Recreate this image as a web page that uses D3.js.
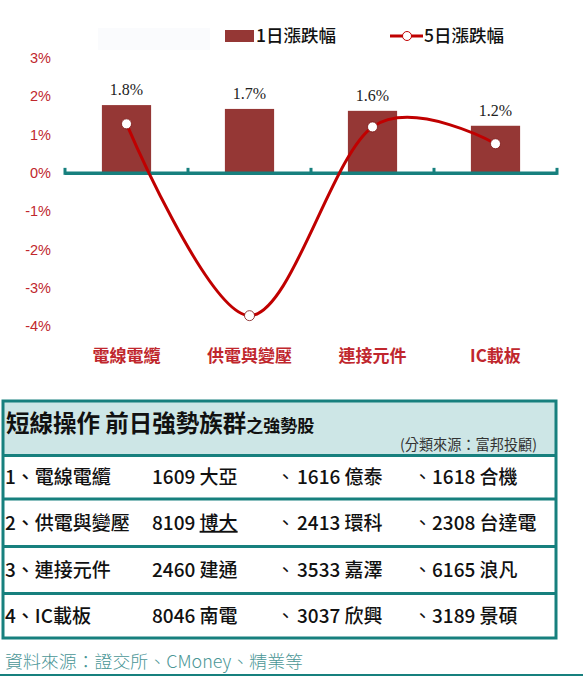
<!DOCTYPE html>
<html>
<head>
<meta charset="utf-8">
<script src="https://cdn.jsdelivr.net/npm/d3@7"></script>
<style>
  html, body { margin: 0; padding: 0; background: #fff; }
  svg { display: block; }
</style>
</head>
<body>
<div id="chart"></div>
<script>
// chart data
var categories = ["電線電纜", "供電與變壓", "連接元件", "IC載板"];
var day1 = [1.77, 1.67, 1.62, 1.23];
var day5 = [1.28, -3.73, 1.2, 0.76];
var yTicks = [3, 2, 1, 0, -1, -2, -3, -4];
var legendNames = ["1日漲跌幅", "5日漲跌幅"];

// table data
var tableTitle = "短線操作 前日強勢族群";
var tableTitleSub = "之強勢股";
var tableNote = "(分類來源：富邦投顧)";
var groupNames = ["1、電線電纜", "2、供電與變壓", "3、連接元件", "4、IC載板"];
var stockCodes = [["1609", "1616", "1618"], ["8109", "2413", "2308"], ["2460", "3533", "6165"], ["8046", "3037", "3189"]];
var stockNames = [["大亞", "億泰", "合機"], ["博大", "環科", "台達電"], ["建通", "嘉澤", "浪凡"], ["南電", "欣興", "景碩"]];
var sourceText = "資料來源：證交所、CMoney、精業等";

function init(){

    var w = 583;
    var h = 676;

    var barColor = "#953735";
    var lineColor = "#c00000";
    var teal = "#17807e";
    var red = "#c0272d";
    var cjk = "'Noto Sans CJK TC', 'Noto Sans', sans-serif";

    var svg = d3.select("#chart")
                .append("svg")
                .attr("width", w)
                .attr("height", h);

    var x = d3.scaleBand()
              .domain(categories)
              .range([65, 557])
              .paddingInner(0)
              .paddingOuter(0);

    var y = d3.scaleLinear()
              .domain([-4, 3])
              .range([326, 58]);

    // faint leftover box behind the legend
    svg.append("rect")
       .attr("x", 98).attr("y", 28)
       .attr("width", 112).attr("height", 22)
       .attr("fill", "#fafbfd");

    // y tick labels
    svg.selectAll("text.ytick")
       .data(yTicks)
       .enter()
       .append("text")
       .attr("class", "ytick")
       .attr("x", 51)
       .attr("y", function(d){ return y(d); })
       .attr("dy", "0.35em")
       .attr("text-anchor", "end")
       .attr("font-family", "'Liberation Sans', Arial, sans-serif")
       .attr("font-size", 14.5)
       .attr("fill", red)
       .text(function(d){ return d + "%"; });

    var bw = x.bandwidth() * 0.4;

    // bars
    svg.selectAll("rect.bar")
       .data(day1)
       .enter()
       .append("rect")
       .attr("class", "bar")
       .attr("x", function(d, i){ return x(categories[i]) + (x.bandwidth() - bw) / 2; })
       .attr("y", function(d){ return y(d); })
       .attr("width", bw)
       .attr("height", function(d){ return y(0) - y(d); })
       .attr("fill", barColor);

    // bar value labels
    svg.selectAll("text.blabel")
       .data(day1)
       .enter()
       .append("text")
       .attr("class", "blabel")
       .attr("x", function(d, i){ return x(categories[i]) + x.bandwidth() / 2; })
       .attr("y", function(d){ return y(d) - 10; })
       .attr("text-anchor", "middle")
       .attr("font-family", "'Liberation Serif', 'Times New Roman', serif")
       .attr("font-size", 16)
       .attr("fill", "#222")
       .text(function(d){ return d.toFixed(1) + "%"; });

    // zero axis with tick marks
    svg.append("line")
       .attr("x1", x.range()[0]).attr("x2", x.range()[1])
       .attr("y1", y(0) + 0.5).attr("y2", y(0) + 0.5)
       .attr("stroke", teal)
       .attr("stroke-width", 3.5);

    var tickX = categories.map(function(c){ return x(c); }).concat([x.range()[1]]);
    svg.selectAll("line.xtick")
       .data(tickX)
       .enter()
       .append("line")
       .attr("class", "xtick")
       .attr("x1", function(d){ return d; })
       .attr("x2", function(d){ return d; })
       .attr("y1", y(0) - 5)
       .attr("y2", y(0) + 2)
       .attr("stroke", teal)
       .attr("stroke-width", 3);

    // 5-day line
    var line = d3.line()
                 .x(function(d, i){ return x(categories[i]) + x.bandwidth() / 2; })
                 .y(function(d){ return y(d); })
                 .curve(d3.curveCardinal.tension(0));

    svg.append("path")
       .datum(day5)
       .attr("d", line)
       .attr("fill", "none")
       .attr("stroke", lineColor)
       .attr("stroke-width", 3);

    svg.selectAll("circle.pt")
       .data(day5)
       .enter()
       .append("circle")
       .attr("class", "pt")
       .attr("cx", function(d, i){ return x(categories[i]) + x.bandwidth() / 2; })
       .attr("cy", function(d){ return y(d); })
       .attr("r", 5)
       .attr("fill", "#fff")
       .attr("stroke", "#7a1010")
       .attr("stroke-width", 0.8);

    // category labels
    svg.selectAll("text.cat")
       .data(categories)
       .enter()
       .append("text")
       .attr("class", "cat")
       .attr("x", function(d){ return x(d) + x.bandwidth() / 2; })
       .attr("y", 356)
       .attr("dy", "0.35em")
       .attr("text-anchor", "middle")
       .attr("font-family", cjk)
       .attr("font-weight", "bold")
       .attr("font-size", 17)
       .attr("fill", red)
       .text(function(d){ return d; });

    // legend
    svg.append("rect")
       .attr("x", 225).attr("y", 30)
       .attr("width", 29).attr("height", 12)
       .attr("fill", barColor);
    svg.append("line")
       .attr("x1", 390).attr("x2", 423)
       .attr("y1", 36).attr("y2", 36)
       .attr("stroke", lineColor)
       .attr("stroke-width", 3);
    svg.append("circle")
       .attr("cx", 407).attr("cy", 36).attr("r", 4.5)
       .attr("fill", "#fff")
       .attr("stroke", lineColor)
       .attr("stroke-width", 1);
    svg.selectAll("text.leg")
       .data(legendNames)
       .enter()
       .append("text")
       .attr("class", "leg")
       .attr("x", function(d, i){ return i == 0 ? 256 : 424; })
       .attr("y", 36)
       .attr("dy", "0.36em")
       .attr("font-family", cjk)
       .attr("font-weight", 500)
       .attr("font-size", 17.5)
       .attr("fill", "#111")
       .text(function(d){ return d; });

    // ---- table ----
    var tLeft = 3, tRight = 556, tTop = 401, tBottom = 638;
    var rowLines = [455.5, 499, 546.5, 593.5];
    var rowMid = [477, 523, 570, 616];

    svg.append("rect")
       .attr("x", tLeft).attr("y", tTop)
       .attr("width", tRight - tLeft).attr("height", rowLines[0] - tTop)
       .attr("fill", "#cde6e6");

    svg.selectAll("line.rowline")
       .data(rowLines)
       .enter()
       .append("line")
       .attr("class", "rowline")
       .attr("x1", tLeft).attr("x2", tRight)
       .attr("y1", function(d){ return d; })
       .attr("y2", function(d){ return d; })
       .attr("stroke", teal)
       .attr("stroke-width", 3);

    svg.append("rect")
       .attr("x", tLeft).attr("y", tTop)
       .attr("width", tRight - tLeft).attr("height", tBottom - tTop)
       .attr("fill", "none")
       .attr("stroke", teal)
       .attr("stroke-width", 3);

    var title = svg.append("text")
       .attr("x", 6).attr("y", 432)
       .attr("font-family", cjk)
       .attr("font-weight", "bold")
       .attr("fill", "#111");
    title.append("tspan").attr("font-size", 23.5).text(tableTitle);
    title.append("tspan").attr("font-size", 17).text(tableTitleSub);

    svg.append("text")
       .attr("x", 400).attr("y", 450)
       .attr("textLength", 137)
       .attr("lengthAdjust", "spacingAndGlyphs")
       .attr("font-family", cjk)
       .attr("font-size", 14.5)
       .attr("fill", "#333")
       .text(tableNote);

    var rowFont = 19;

    svg.selectAll("text.grp")
       .data(groupNames)
       .enter()
       .append("text")
       .attr("class", "grp")
       .attr("x", 5)
       .attr("y", function(d, i){ return rowMid[i]; })
       .attr("dy", "0.36em")
       .attr("font-family", cjk)
       .attr("font-weight", 500)
       .attr("font-size", rowFont)
       .attr("fill", "#111")
       .text(function(d){ return d; });

    var colX = [152, 297, 432];
    var sepX = [null, 276, 413];

    for (var r = 0; r < groupNames.length; r++) {
        for (var c = 0; c < 3; c++) {
            if (sepX[c]) {
                svg.append("text")
                   .attr("x", sepX[c])
                   .attr("y", rowMid[r])
                   .attr("dy", "0.36em")
                   .attr("font-family", cjk)
                   .attr("font-size", rowFont)
                   .attr("fill", "#111")
                   .text("、");
            }
            var t = svg.append("text")
               .attr("x", colX[c])
               .attr("y", rowMid[r])
               .attr("dy", "0.36em")
               .attr("font-family", cjk)
               .attr("font-weight", 500)
               .attr("font-size", rowFont)
               .attr("fill", "#111");
            t.append("tspan").text(stockCodes[r][c] + " ");
            var nm = t.append("tspan").text(stockNames[r][c]);
            // 博大 is underlined in the source table
            if (stockNames[r][c] == "博大") {
                nm.style("text-decoration", "underline");
            }
        }
    }

    // source note
    svg.append("text")
       .attr("x", 5).attr("y", 662)
       .attr("dy", "0.35em")
       .attr("textLength", 298)
       .attr("lengthAdjust", "spacingAndGlyphs")
       .attr("font-family", cjk)
       .attr("font-weight", 300)
       .attr("font-size", 17.5)
       .attr("fill", "#4a9696")
       .text(sourceText);

    svg.append("line")
       .attr("x1", 0).attr("x2", w)
       .attr("y1", 675).attr("y2", 675)
       .attr("stroke", teal)
       .attr("stroke-width", 2);
}

window.onload = init;
</script>
</body>
</html>
